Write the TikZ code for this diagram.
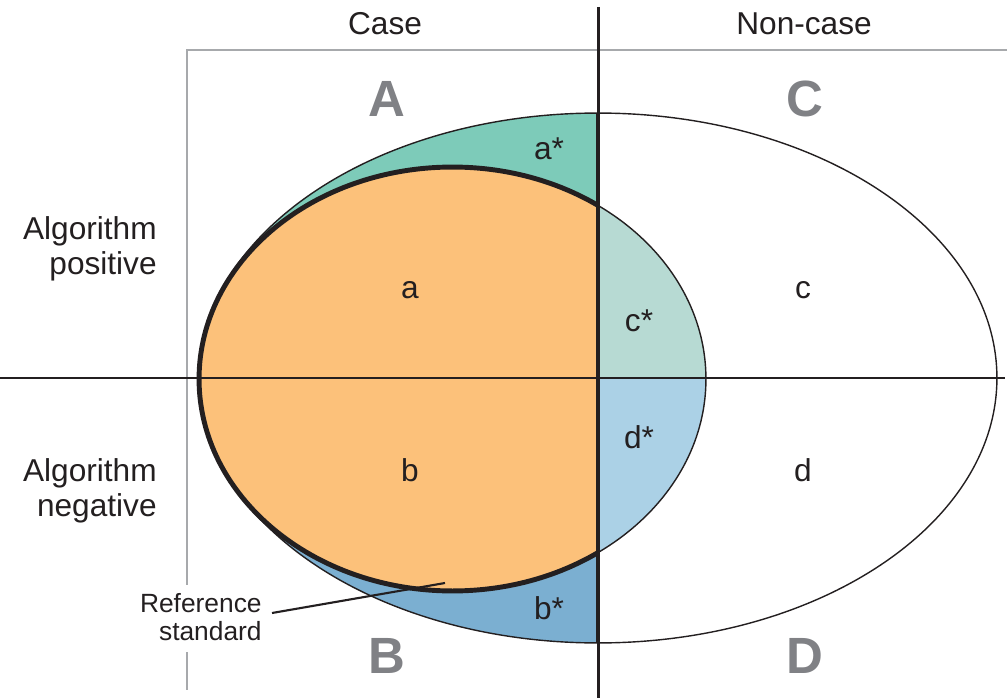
\documentclass[tikz,border=0pt]{standalone}
\usepackage{fontspec}
\setmainfont{Liberation Sans}
\definecolor{lblk}{RGB}{35,31,32}
\definecolor{qgry}{RGB}{128,129,133}
\definecolor{fgry}{RGB}{167,169,172}
\definecolor{cAst}{RGB}{125,203,185}
\definecolor{cBst}{RGB}{123,175,209}
\definecolor{cCst}{RGB}{183,218,211}
\definecolor{cDst}{RGB}{171,209,230}
\definecolor{cOra}{RGB}{252,193,122}
\tikzset{
  rlab/.style={font=\fontsize{18}{19.8}\selectfont,text=lblk,inner sep=0pt},
  rlabR/.style={rlab,align=right,anchor=east},
  slabR/.style={font=\fontsize{15}{16.4}\selectfont,text=lblk,inner sep=0pt,align=right,anchor=east},
  qlab/.style={font=\fontsize{29}{32}\selectfont\bfseries,text=qgry,inner sep=0pt},
  axisH/.style={lblk,line width=1.5pt},
  axisV/.style={lblk,line width=1.7pt},
  frameln/.style={fgry,line width=1.1pt},
  ovalthin/.style={lblk,line width=0.8pt},
  ovalthick/.style={lblk,line width=2.8pt},
  refln/.style={lblk,line width=1.2pt},
}
\begin{document}
\begin{tikzpicture}[x=0.02cm,y=-0.02cm]
\useasboundingbox (0,0) rectangle (1007,699);
% ---- the coloured pieces, one quadrant at a time
\begin{scope}
  \clip (0,0) rectangle (598,378);
  \fill[cAst] (598,378) ellipse [x radius=7.98cm,y radius=5.3cm];
\end{scope}
\begin{scope}
  \clip (0,378) rectangle (598,699);
  \fill[cBst] (598,378) ellipse [x radius=7.98cm,y radius=5.3cm];
\end{scope}
\begin{scope}
  \clip (598,0) rectangle (1007,378);
  \fill[cCst] (452.5,379) ellipse [x radius=5.07cm,y radius=4.24cm];
\end{scope}
\begin{scope}
  \clip (598,378) rectangle (1007,699);
  \fill[cDst] (452.5,379) ellipse [x radius=5.07cm,y radius=4.24cm];
\end{scope}
\begin{scope}
  \clip (0,0) rectangle (598,699);
  \fill[cOra] (452.5,379) ellipse [x radius=5.07cm,y radius=4.24cm];
\end{scope}
% ---- gray frame, broken round the label
\draw[frameln] (1007,50) -- (187,50) -- (187,585);
\draw[frameln] (187,652) -- (187,690);
% ---- the two axes
\coordinate (hL) at (0,378);
\coordinate (hR) at (1005,378);
\coordinate (vT) at (598,7);
\coordinate (vB) at (598,698);
\draw[axisH] (hL) -- (hR);
\draw[axisV] (vT) -- (vB);
\draw[lblk,line width=2.3pt] (598,113) -- (598,643);
% ---- outlines
\draw[ovalthin] (598,378) ellipse [x radius=7.98cm,y radius=5.3cm];
\begin{scope}
  \clip (598,0) rectangle (1007,699);
  \draw[ovalthin] (452.5,379) ellipse [x radius=5.07cm,y radius=4.24cm];
\end{scope}
\begin{scope}
  \clip (0,0) rectangle (598,699);
  \draw[ovalthick] (452.5,379) ellipse [x radius=5.07cm,y radius=4.24cm];
\end{scope}
% ---- headings
\node[rlab] (hcase) at (385,24) {Case};
\node[rlab] (hnon) at (804,24) {Non-case};
\node[rlabR] (hpos) at (157,249) {Algorithm\\positive};
\node[rlabR] (hneg) at (157,491) {Algorithm\\negative};
% ---- quadrant letters
\node[qlab] (qA) at (387,99) {A};
\node[qlab] (qC) at (805,99) {C};
\node[qlab] (qB) at (387,656) {B};
\node[qlab] (qD) at (805,656) {D};
% ---- cell labels
\node[rlab] (ca) at (410,290) {a};
\node[rlab] (cb) at (410,470) {b};
\node[rlab] (cc) at (803,290) {c};
\node[rlab] (cd) at (803,470) {d};
\node[rlab] (cas) at (549,149) {a*};
\node[rlab] (cbs) at (549,608) {b*};
\node[rlab] (ccs) at (639,321) {c*};
\node[rlab] (cds) at (639,437) {d*};
% ---- reference standard pointer
\node[slabR] (refstd) at (262,617) {Reference\\standard};
\coordinate (refpt) at (445,583);
\draw[refln] ([xshift=0.2cm,yshift=0.08cm]refstd.east) -- (refpt);
\end{tikzpicture}
\end{document}
